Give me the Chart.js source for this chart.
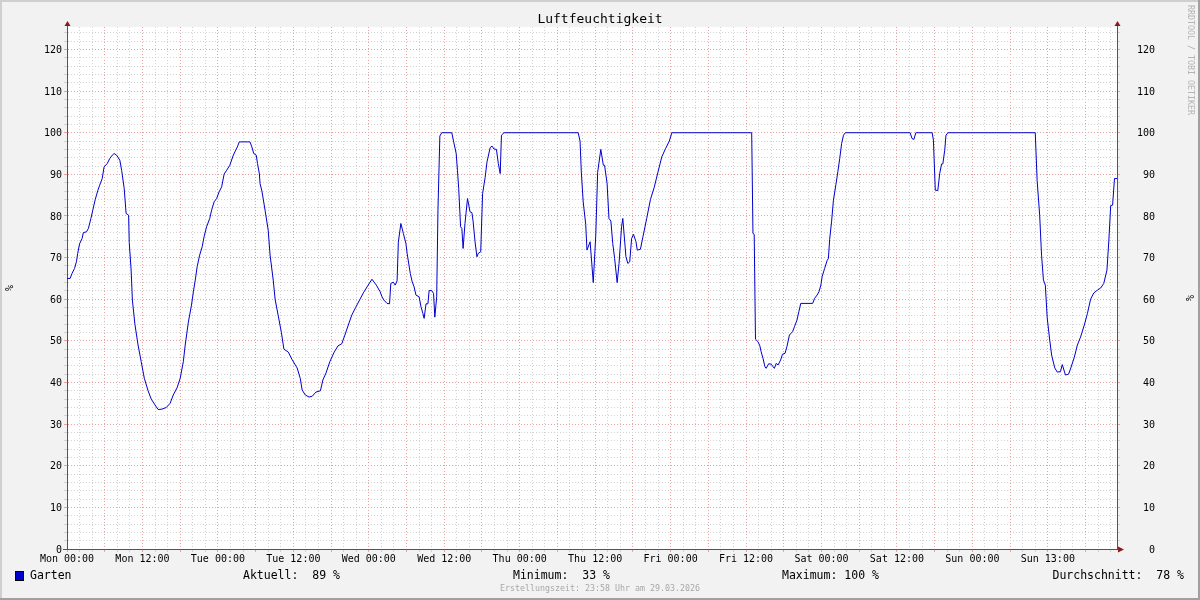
<!DOCTYPE html>
<html>
<head>
<meta charset="utf-8">
<title>Luftfeuchtigkeit</title>
<script src="https://cdn.jsdelivr.net/npm/chart.js@4.4.1/dist/chart.umd.min.js"></script>
<style>
	html, body { margin: 0; padding: 0; background: #f2f2f2; }
	#wrap { width: 1200px; height: 600px; }
</style>
</head>
<body>
<div id="wrap"><canvas id="myChart" width="1200" height="600"></canvas></div>
<script>
// hours since Mon 00:00 (CET) and relative humidity in %
var hours = [
	0,0.5,0.8,1.2,1.5,1.7,2.0,2.4,2.6,3.1,3.4,3.8,4.1,4.5,4.9,5.2,5.6,5.9,6.4,6.8,7.2,7.5,7.9,8.4,8.7,9.1,9.4,9.8,9.9,10.2,10.4,
	10.8,11.3,11.8,12.3,12.9,13.4,14.0,14.5,15.1,15.8,16.4,16.9,17.5,18.0,18.5,18.8,19.3,19.8,
	20.1,20.4,20.7,21.1,21.5,21.8,22.2,22.7,23.0,23.4,23.8,24.2,24.6,25.0,25.4,25.9,26.4,26.7,27.1,27.4,29.1,29.4,29.7,30.1,30.3,30.6,30.7,
	31.0,31.5,32.0,32.3,32.8,33.1,33.6,34.1,34.5,35.2,35.8,36.6,37.1,37.4,37.9,38.5,39.0,39.6,40.3,40.7,41.2,41.8,42.5,43.1,43.7,44.2,44.9,45.3,45.9,46.6,47.2,47.9,48.5,49.2,
	49.8,50.1,50.4,50.9,51.3,51.5,51.9,52.2,52.5,52.7,53.1,53.5,53.9,54.1,54.6,54.9,55.2,55.5,56.0,56.3,56.6,56.8,57.1,57.4,57.6,58.0,58.3,58.5,58.8,59.0,59.3,59.6,
	61.2,61.5,61.9,62.1,62.3,62.6,62.8,63.0,63.3,63.7,64.1,64.4,64.6,64.9,65.2,65.4,65.8,66.1,66.5,66.8,67.3,67.6,67.9,68.3,68.6,68.9,69.1,69.5,
	81.3,81.6,81.8,82.1,82.5,82.7,83.2,83.4,83.7,84.1,84.4,84.9,85.3,85.5,85.9,86.2,86.5,86.8,87.1,87.5,87.8,88.2,88.4,88.9,89.2,89.5,89.8,90.1,90.5,90.7,91.2,91.6,92.2,92.8,93.4,94.0,94.6,95.2,95.8,96.2,
	108.9,109.1,109.3,109.5,109.9,110.2,110.4,110.7,111.0,111.2,111.6,112.0,112.3,112.5,112.8,113.1,113.5,113.8,114.2,114.5,114.9,115.4,115.7,116.1,116.4,116.7,118.6,118.9,119.3,119.6,119.9,120.1,120.5,120.9,121.1,121.3,121.6,121.9,122.3,122.6,122.9,123.2,123.5,123.8,
	134.1,134.4,134.7,135.0,137.6,137.8,138.1,138.5,138.8,139.1,139.3,139.6,139.8,140.1,
	154.0,154.3,154.7,155.0,155.3,155.6,155.9,156.3,156.6,157.1,157.5,158.0,158.3,158.8,159.3,159.7,160.2,160.7,161.2,161.8,162.3,162.8,163.3,163.9,164.4,164.9,165.4,165.7,166.0,166.3,166.6,167.0
];
var humidity = [
	65,65,66.2,67.4,69,71,73.3,74.6,76,76.2,77,79.4,81.4,84,86.1,87.4,89,91.8,92.6,93.8,94.6,95,94.6,93.4,90.9,86.6,80.6,80.2,73.6,67,59.8,
	54,49,45,41,38,36,34.6,33.5,33.6,34,35,37,38.7,41,45,49,54.5,58.6,
	61.8,64.6,67.8,70.6,72.6,75,77.4,79.4,81.4,83.4,84.2,85.8,87,90.1,91,92.2,94.4,95.4,96.6,97.8,97.8,96.6,95,94.6,92.6,90.1,87.8,
	86,81.4,76.6,70.6,64.6,60,56,52,48,47.3,45.5,43.5,41,38.2,37,36.5,36.7,37.7,38,40.6,42.3,45,47.3,48.8,49.3,51.4,54.5,56.2,58,60,61.7,63.4,64.8,63.4,
	61.8,60.6,59.8,59,58.9,63.8,64.1,63.4,64.4,73.7,78.2,75.8,73.4,71,66.2,64.2,63,61,60.6,58.2,56.6,55.4,58.9,58.9,62.1,62.1,61.4,55.7,60.6,81.4,99.2,100,
	100,97.8,95,91,86.6,77.4,77,72.2,78.2,84.2,81,80.8,78.6,73.8,70.2,71,71.4,85.4,89.2,93,96.4,96.8,96.1,96,92.6,90.2,99.4,100,
	100,98,90.6,83.4,78,71.8,73.8,69.9,64,75.4,90.5,96,92.2,92.2,87.8,79.4,78.8,73.4,69.8,64,68.6,77.4,79.4,70.2,68.6,69,74.6,75.6,73.8,71.8,72,75,79.4,84,86.9,90.6,94.2,96.2,98,100,
	100,75.8,75.6,50.4,49.8,48.8,47.4,45.8,43.8,43.4,44.5,44.4,43.8,43.4,44.6,44.2,45.4,46.8,47,48.6,51.4,52.2,53.4,55,57,59,59,60.2,61,61.8,63.4,65.4,67.4,69.3,69.8,74.4,78.6,83.8,87.6,90.6,93.8,97.4,99.4,100,
	100,98.6,98.4,100,100,98.2,86.2,86.1,90.2,92.5,92.5,95.8,99.4,100,
	100,88.5,80.2,70.6,64.6,63.4,55.5,50.2,46.6,43.5,42.5,42.6,44.3,41.8,42,43.7,46,49,50.9,53.8,56.6,60,61.5,62.2,62.7,63.8,67,74,82.5,82.6,89,89
];

var xLabelHours = [0, 12, 24, 36, 48, 60, 72, 84, 96, 108, 120, 132, 144, 156];
var xLabels = ['Mon 00:00', 'Mon 12:00', 'Tue 00:00', 'Tue 12:00', 'Wed 00:00', 'Wed 12:00', 'Thu 00:00',
	'Thu 12:00', 'Fri 00:00', 'Fri 12:00', 'Sat 00:00', 'Sat 12:00', 'Sun 00:00', 'Sun 13:00'];
var yLabelValues = [0, 10, 20, 30, 40, 50, 60, 70, 80, 90, 100, 110, 120];

var seriesName = 'Garten';
var statCurrent = 89;
var statMin = 33;
var statMax = 100;
var statAvg = 78;

var FONT = "'DejaVu Sans Mono', 'Liberation Mono', monospace";
var LINE_COLOR = '#0000cc';
var MINOR_GRID = '#d2d2d2';
var MAJOR_GRID = '#e6a3a3';
var AXIS_COLOR = '#555555';
var ARROW_COLOR = '#8b1a1a';

function gridColor(major) {
	return function(ctx) {
		if (!ctx.tick) return MINOR_GRID;
		return (ctx.tick.value % major === 0) ? MAJOR_GRID : MINOR_GRID;
	};
}

function stepTicks(step, max) {
	return function(scale) {
		var t = [];
		for (var v = 0; v <= max; v += step) t.push({ value: v });
		scale.ticks = t;
	};
}

// draws the rrdtool-like frame, texts, arrows and legend
var rrdDecor = {
	id: 'rrdDecor',
	beforeDraw: function(chart) {
		var c = chart.ctx, a = chart.chartArea;
		c.save();
		c.fillStyle = '#f2f2f2';
		c.fillRect(0, 0, chart.width, chart.height);
		c.fillStyle = '#cfcfcf';
		c.fillRect(0, 0, chart.width, 2);
		c.fillRect(0, 0, 2, chart.height);
		c.fillStyle = '#a0a0a0';
		c.fillRect(0, chart.height - 2, chart.width, 2);
		c.fillRect(chart.width - 2, 0, 2, chart.height);
		c.fillStyle = '#ffffff';
		c.fillRect(a.left, a.top, a.right - a.left, a.bottom - a.top);
		c.restore();
	},
	afterDraw: function(chart) {
		var c = chart.ctx, a = chart.chartArea;
		c.save();

		// axis lines extension and arrows
		c.strokeStyle = AXIS_COLOR;
		c.lineWidth = 1;
		c.beginPath();
		c.moveTo(a.left - 4, Math.round(a.bottom) + 0.5);
		c.lineTo(a.right + 2, Math.round(a.bottom) + 0.5);
		c.moveTo(Math.round(a.left) + 0.5, a.top - 4);
		c.lineTo(Math.round(a.left) + 0.5, a.top);
		c.moveTo(Math.round(a.right) + 0.5, a.top - 4);
		c.lineTo(Math.round(a.right) + 0.5, a.top);
		c.stroke();

		c.fillStyle = ARROW_COLOR;
		[a.left, a.right].forEach(function(x) {
			x = Math.round(x) + 0.5;
			c.beginPath();
			c.moveTo(x - 3, a.top - 1);
			c.lineTo(x + 3, a.top - 1);
			c.lineTo(x, a.top - 6);
			c.closePath();
			c.fill();
		});
		var by = Math.round(a.bottom) + 0.5;
		c.beginPath();
		c.moveTo(a.right + 1, by - 3);
		c.lineTo(a.right + 1, by + 3);
		c.lineTo(a.right + 7, by);
		c.closePath();
		c.fill();

		// title
		c.fillStyle = '#000';
		c.font = '13px ' + FONT;
		c.textAlign = 'center';
		c.textBaseline = 'middle';
		c.fillText('Luftfeuchtigkeit', 600, 20);

		// unit labels
		c.font = '10px ' + FONT;
		c.save();
		c.translate(10, (a.top + a.bottom) / 2);
		c.rotate(-Math.PI / 2);
		c.fillText('%', 0, 0);
		c.restore();
		c.save();
		c.translate(1189, (a.top + a.bottom) / 2 + 10);
		c.rotate(Math.PI / 2);
		c.fillText('%', 0, 0);
		c.restore();

		// watermark
		c.save();
		c.fillStyle = '#b4b4b4';
		c.font = '8.3px ' + FONT;
		c.translate(1190, 5);
		c.rotate(Math.PI / 2);
		c.textAlign = 'left';
		c.fillText('RRDTOOL / TOBI OETIKER', 0, 0);
		c.restore();

		// legend
		c.fillStyle = LINE_COLOR;
		c.fillRect(15, 571, 8, 9);
		c.strokeStyle = '#000';
		c.strokeRect(15.5, 571.5, 8, 9);
		c.fillStyle = '#000';
		c.font = '11.5px ' + FONT;
		c.textAlign = 'left';
		c.fillText(seriesName, 30, 576);
		c.fillText('Aktuell:  ' + statCurrent + ' %', 243, 576);
		c.fillText('Minimum:  ' + statMin + ' %', 513, 576);
		c.fillText('Maximum: ' + statMax + ' %', 782, 576);
		c.textAlign = 'right';
		c.fillText('Durchschnitt:  ' + statAvg + ' %', 1184, 576);

		// footer
		c.fillStyle = '#a8a8a8';
		c.font = '8.3px ' + FONT;
		c.textAlign = 'center';
		c.fillText('Erstellungszeit: 23:58 Uhr am 29.03.2026', 600, 589);
		c.restore();
	}
};

var ctx = document.getElementById('myChart').getContext('2d');
var chart = new Chart(ctx, {
	type: 'line',
	data: {
		datasets: [{
			label: seriesName,
			data: hours.map(function(h, i) { return { x: h, y: humidity[i] }; }),
			borderColor: LINE_COLOR,
			borderWidth: 1,
			pointRadius: 0,
			tension: 0,
			fill: false
		}]
	},
	options: {
		responsive: false,
		animation: false,
		events: [],
		layout: { padding: { top: 27, right: 45, left: 0, bottom: 0 } },
		plugins: {
			legend: { display: false },
			title: { display: false },
			tooltip: { enabled: false }
		},
		scales: {
			x: {
				type: 'linear',
				min: 0,
				max: 167,
				afterBuildTicks: stepTicks(2, 166),
				afterFit: function(s) { s.height = 51; },
				grid: { color: gridColor(6), tickLength: 3 },
				border: { color: AXIS_COLOR, dash: [1, 2] },
				ticks: {
					autoSkip: false,
					maxRotation: 0,
					padding: 1,
					color: '#000',
					font: { family: FONT, size: 10 },
					callback: function(v) {
						var i = xLabelHours.indexOf(v);
						return i >= 0 ? xLabels[i] : '';
					}
				}
			},
			y: {
				position: 'left',
				min: 0,
				max: 125.4,
				afterBuildTicks: stepTicks(2, 124),
				afterFit: function(s) { s.width = 67; },
				grid: { color: gridColor(10), tickLength: 3 },
				border: { color: AXIS_COLOR, dash: [1, 2] },
				ticks: {
					autoSkip: false,
					padding: 2,
					labelOffset: 1,
					color: '#000',
					font: { family: FONT, size: 10 },
					callback: function(v) { return yLabelValues.indexOf(v) >= 0 ? String(v) : ''; }
				}
			},
			y2: {
				position: 'right',
				min: 0,
				max: 125.4,
				afterBuildTicks: stepTicks(2, 124),
				afterFit: function(s) { s.width = 38; },
				grid: { color: gridColor(10), tickLength: 3, drawOnChartArea: false },
				border: { color: AXIS_COLOR },
				ticks: {
					autoSkip: false,
					crossAlign: 'far',
					labelOffset: 1,
					color: '#000',
					font: { family: FONT, size: 10 },
					callback: function(v) { return yLabelValues.indexOf(v) >= 0 ? String(v) : ''; }
				}
			}
		}
	},
	plugins: [rrdDecor]
});
</script>
</body>
</html>
